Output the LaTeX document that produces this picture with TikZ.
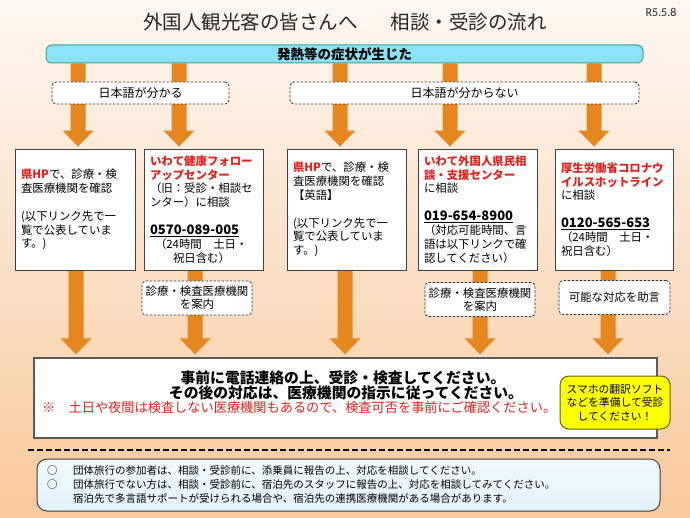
\documentclass[tikz,border=0pt]{standalone}
\usepackage{fontspec}
\setmainfont{Noto Sans CJK JP}
\newfontfamily\carl{Carlito}
\usetikzlibrary{calc}
\definecolor{arrowor}{HTML}{E6871E}
\definecolor{redtx}{HTML}{E0221E}
\definecolor{barfill}{HTML}{8CE2F9}
\definecolor{barline}{HTML}{3BA48E}
\definecolor{boxline}{HTML}{404040}
\definecolor{mainline}{HTML}{5A5A5A}
\definecolor{bgtop}{HTML}{FFF8F2}
\definecolor{bgmid}{HTML}{FADAB9}
\definecolor{bgbot}{HTML}{F8C99B}
\definecolor{yel}{HTML}{FFFF00}
\definecolor{yelline}{HTML}{6E5C10}
\definecolor{notetop}{HTML}{F2FAFD}
\definecolor{notebot}{HTML}{E2F2FA}
\definecolor{titlecol}{HTML}{262626}
\pgfdeclarelayer{bg}
\pgfdeclarelayer{arr}
\pgfsetlayers{bg,arr,main}
\newcommand\orarrow[4]{%
  \fill[arrowor] let \p1=(#2 -| #1), \p2=(#3 -| #1) in
    (\x1-7.5pt,\y1) -- (\x1+7.5pt,\y1) -- (\x1+7.5pt,\y2+#4+16pt) --
    (\x1+15.5pt,\y2+#4+16pt) -- (\x1,\y2+#4) -- (\x1-15.5pt,\y2+#4+16pt) --
    (\x1-7.5pt,\y2+#4+16pt) -- cycle;}
\newcommand\redb[1]{{\color{redtx}\bfseries #1}}
\newcommand\phone[1]{{\fontsize{13}{13.9}\selectfont\bfseries\underline{#1}}}
\begin{document}
\begin{tikzpicture}[x=1pt,y=-1pt,
  infobox/.style={draw=boxline,line width=0.9pt,fill=white,inner xsep=6pt,inner ysep=0pt,
    align=left,text width=#1,minimum height=121pt,font=\fontsize{11.4}{13.9}\selectfont},
  langbox/.style={draw=black!80,dash pattern=on 2.5pt off 1.5pt,line width=0.8pt,
    rounded corners=4pt,fill=white,minimum height=22pt,minimum width=#1,
    font=\fontsize{12}{14}\selectfont,inner sep=0pt},
  guidebox/.style={langbox=#1,minimum height=34pt,align=center,
    font=\fontsize{11.4}{13}\selectfont},
  plain/.style={inner sep=0pt},
  sepline/.style={draw=black,line width=2.2pt,dash pattern=on 6pt off 3pt}]
\useasboundingbox (0,0) rectangle (690,518);
\begin{pgfonlayer}{bg}
\shade[top color=bgtop,middle color=bgmid,bottom color=bgbot] (0,0) rectangle (690,518);
\end{pgfonlayer}

\coordinate (u1) at (78,0);  \coordinate (u2) at (179,0); \coordinate (u3) at (340,0);
\coordinate (u4) at (450,0); \coordinate (u5) at (594,0);
\coordinate (l1) at (76,0);  \coordinate (l2) at (195,0); \coordinate (l3) at (345,0);
\coordinate (l4) at (480,0); \coordinate (l5) at (608,0);

\node[plain,font=\fontsize{19.5}{22}\selectfont,text=titlecol] (title) at (345,22)
  {外国人観光客の皆さんへ\hspace{33pt}相談・受診の流れ};
\node[plain,font=\carl\fontsize{12}{14}\selectfont,text=titlecol] (date) at (661,12) {R5.5.8};

\node[draw=barline,line width=1pt,fill=barfill,rounded corners=6pt,minimum width=597pt,
  minimum height=18pt,inner sep=0pt,font=\fontsize{13.5}{15}\selectfont\bfseries] (topbar) at (344.5,54)
  {発熱等の症状が生じた};

\node[langbox=177pt] (ja) at (140.5,93) {日本語が分かる};
\node[langbox=349pt] (nonja) at (464.5,93) {日本語が分からない};

\node[infobox=108pt] (b1) at (75,209.5)
  {\redb{県HP}で、診療・検\\査医療機関を確認\\[13.9pt](以下リンク先で一\\覧で公表していま\\す。)};
\node[infobox=107pt] (b2) at (203.5,209.5)
  {\redb{いわて健康フォロー\\アップセンター}\\（旧：受診・相談セ\\ンター）に相談\\[13.9pt]\phone{0570-089-005}\\\hspace*{5pt}（24時間　土日・\\\hspace*{23pt}祝日含む）};
\node[infobox=107pt] (b3) at (346.5,209.5)
  {\redb{県HP}で、診療・検\\査医療機関を確認\\【英語】\\[13.9pt](以下リンク先で一\\覧で公表していま\\す。)};
\node[infobox=107pt] (b4) at (477.5,209.5)
  {\redb{いわて外国人県民相\\談・支援センター}\\に相談\\[13.9pt]\phone{019-654-8900}\\（対応可能時間、言\\語は以下リンクで確\\認してください）};
\node[infobox=106pt] (b5) at (614,209.5)
  {\redb{厚生労働省コロナウ\\イルスホットライン}\\に相談\\[13.9pt]\phone{0120-565-653}\\（24時間　土日・\\祝日含む）};

\node[guidebox=110pt] (gA) at (197,298) {診療・検査医療機関\\を案内};
\node[guidebox=110pt] (gB) at (480,299.5) {診療・検査医療機関\\を案内};
\node[guidebox=111pt] (gC) at (614.5,297.5) {可能な対応を助言};

\node[draw=mainline,line width=1.3pt,fill=white,minimum width=623pt,minimum height=80pt,inner sep=0pt]
  (main) at (345.5,398) {};
\node[plain,anchor=base,font=\fontsize{14.8}{15}\selectfont\bfseries] (m1) at (343,383.5)
  {事前に電話連絡の上、受診・検査してください。};
\node[plain,anchor=base,font=\fontsize{14.8}{15}\selectfont\bfseries] (m2) at (346,398.7)
  {その後の対応は、医療機関の指示に従ってください。};
\node[plain,anchor=base west,text=redtx,font=\fontsize{13.2}{15}\selectfont] (m3) at (42,412)
  {※　土日や夜間は検査しない医療機関もあるので、検査可否を事前にご確認ください。};
\node[draw=yelline,line width=1pt,fill=yel,rounded corners=9pt,minimum width=110pt,
  minimum height=53pt,inner sep=0pt,align=center,font=\fontsize{10.8}{13.5}\selectfont] (tip) at (615,402.5)
  {スマホの翻訳ソフト\\などを準備して受診\\してください！};

\coordinate (sl) at (28,450);
\coordinate (sr) at (670,450);
\draw[sepline] (sl) -- (sr);

\node[draw=boxline,line width=1pt,top color=notetop,bottom color=notebot,rounded corners=10pt,
  minimum width=623pt,minimum height=52pt,inner sep=0pt] (note) at (348.5,485) {};
\node[plain,anchor=west,align=left,font=\fontsize{10.5}{14}\selectfont] (notetext) at (47,484.5)
  {○\hspace{15.5pt}団体旅行の参加者は、相談・受診前に、添乗員に報告の上、対応を相談してください。\\
   ○\hspace{15.5pt}団体旅行でない方は、相談・受診前に、宿泊先のスタッフに報告の上、対応を相談してみてください。\\
   \hspace*{26pt}宿泊先で多言語サポートが受けられる場合や、宿泊先の連携医療機関がある場合があります。};

\begin{pgfonlayer}{arr}
\orarrow{u1}{topbar.south}{b1.north}{2pt}
\orarrow{u2}{topbar.south}{b2.north}{2pt}
\orarrow{u3}{topbar.south}{b3.north}{2pt}
\orarrow{u4}{topbar.south}{b4.north}{2pt}
\orarrow{u5}{topbar.south}{b5.north}{2pt}
\orarrow{l1}{b1.south}{main.north}{3pt}
\orarrow{l2}{b2.south}{main.north}{3pt}
\orarrow{l3}{b3.south}{main.north}{3pt}
\orarrow{l4}{b4.south}{main.north}{3pt}
\orarrow{l5}{b5.south}{main.north}{3pt}
\end{pgfonlayer}
\end{tikzpicture}
\end{document}
